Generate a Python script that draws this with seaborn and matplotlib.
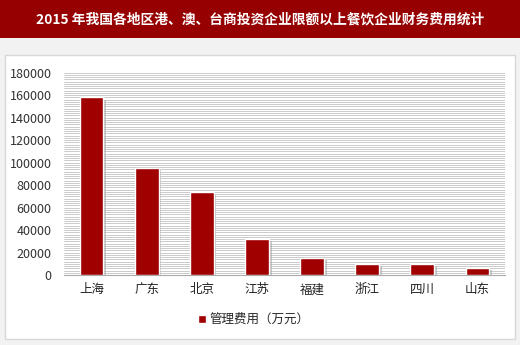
import matplotlib
matplotlib.use("Agg")
import matplotlib.pyplot as plt
import matplotlib.patheffects as pe
from matplotlib.patches import Rectangle
import numpy as np
import seaborn as sns

regions = ["上海", "广东", "北京", "江苏", "福建", "浙江", "四川", "山东"]
values = [158000, 95300, 74200, 31800, 15100, 9800, 9800, 6200]
yticks = [0, 20000, 40000, 60000, 80000, 100000, 120000, 140000, 160000, 180000]
title = "2015 年我国各地区港、澳、台商投资企业限额以上餐饮企业财务费用统计"
series_name = "管理费用（万元）"

sns.set_theme(style="white")
plt.rcParams['font.family'] = ['Noto Sans CJK SC', 'DejaVu Sans']

fig = plt.figure(figsize=(5.2, 3.45), dpi=100)
fig.patch.set_facecolor("#e6e6e6")
# title bar
fig.patches.append(Rectangle((0, (345 - 38) / 345), 1, 38 / 345, transform=fig.transFigure,
                             facecolor="#960000", edgecolor="none", zorder=-3))
fig.patches.append(Rectangle((0, 0), 1, (345 - 38) / 345, transform=fig.transFigure,
                             facecolor="#f2f2f2", edgecolor="none", zorder=-3))
# white panel
fig.patches.append(Rectangle((5 / 520, 6 / 345), 510 / 520, 284 / 345, transform=fig.transFigure,
                             facecolor="white", edgecolor="#d8d8d8", linewidth=1, zorder=-2))
fig.text(0.5, (345 - 19) / 345, title, color="white", fontsize=9.9, fontweight="bold",
         ha="center", va="center")

ax = fig.add_axes([64 / 520, 70 / 345, 441 / 520, (275 - 72.7) / 345])
ax.set_facecolor("none")
color = "#a00000"
sns.barplot(x=regions, y=values, color=color, width=0.43, saturation=1, ax=ax, zorder=3,
            label=series_name)
for p in ax.patches:
    p.set_path_effects([pe.SimplePatchShadow(offset=(2, -1.5), shadow_rgbFace="#999999", alpha=0.5),
                        pe.Normal()])

ax.set_ylim(0, 180000)
ax.set_xlim(-0.5, len(regions) - 0.5)
ax.set_yticks(yticks)
ax.set_yticklabels([str(v) for v in yticks], fontsize=9, color="#333333")
ax.set_yticks(np.arange(0, 180001, 2000), minor=True)
ax.grid(True, which="both", axis="y", color="#bdbdbd", linewidth=0.55, zorder=0)
ax.tick_params(axis="y", which="both", length=0, pad=9)
ax.tick_params(axis="x", length=0, pad=6, labelsize=9, labelcolor="#222222")
ax.set_xlabel("")
ax.set_ylabel("")
for s in ["top", "right", "left"]:
    ax.spines[s].set_visible(False)
ax.spines["bottom"].set_color("#aaaaaa")
ax.spines["bottom"].set_linewidth(0.8)

leg = ax.legend(loc="center", bbox_to_anchor=(0.43, -0.22), frameon=False, fontsize=9,
                handlelength=0.6, handleheight=0.6, handletextpad=0.3)
for h in leg.legend_handles:
    h.set_path_effects([])

fig.savefig("out.png", dpi=100)
